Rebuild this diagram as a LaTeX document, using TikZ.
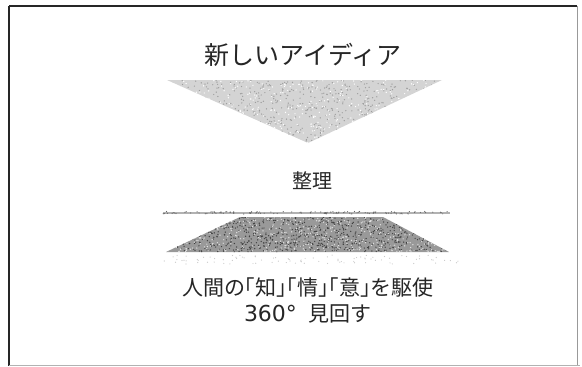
\documentclass[tikz,border=0pt]{standalone}
\usepackage{fontspec}
\newfontfamily\jpfont{Noto Sans CJK JP}
\newfontfamily\numfont{DejaVu Sans}
\tikzset{
  lbl/.style={font=\jpfont, inner sep=0pt, text=black!85, anchor=center},
  frame/.style={draw=black!85, line width=1.1pt},
}
\begin{document}
\begin{tikzpicture}[x=1pt,y=-1pt]
\useasboundingbox (0,0) rectangle (582,367);
\fill[white] (0,0) rectangle (582,367);
\draw[frame] (9,6) -- (577,6);
\draw[frame] (9,6) -- (9,366);
\draw[draw=black!40, line width=0.8pt] (577,6) -- (577,366);
\draw[draw=black!30, line width=0.7pt] (9,365.8) -- (580,365.8);
% top inverted triangle
\begin{scope}
  \clip (167,80) -- (442,80) -- (308,143) -- cycle;
  \fill[black!17] (160,78) rectangle (450,150);
  \pgfmathsetseed{7}
  \foreach \i in {1,...,700}{
    \pgfmathsetmacro\px{167+275*rnd}
    \pgfmathsetmacro\py{80+63*rnd}
    \fill[black!38] (\px,\py) circle (0.7pt);
  }
  \foreach \i in {1,...,400}{
    \pgfmathsetmacro\px{167+275*rnd}
    \pgfmathsetmacro\py{80+63*rnd}
    \fill[white] (\px,\py) circle (0.7pt);
  }
\end{scope}
% thin line above trapezoid
\begin{scope}
  \fill[black!30] (163,211.5) rectangle (450,214);
  \pgfmathsetseed{11}
  \foreach \i in {1,...,120}{
    \pgfmathsetmacro\px{163+287*rnd}
    \pgfmathsetmacro\py{211.5+2.5*rnd}
    \fill[black!60] (\px,\py) circle (0.6pt);
  }
\end{scope}
% trapezoid
\begin{scope}
  \clip (240,217) -- (383,217) -- (449,252) -- (166,252) -- cycle;
  \fill[black!40] (160,215) rectangle (455,255);
  \pgfmathsetseed{3}
  \foreach \i in {1,...,900}{
    \pgfmathsetmacro\px{166+283*rnd}
    \pgfmathsetmacro\py{217+35*rnd}
    \fill[black!75] (\px,\py) circle (0.7pt);
  }
  \foreach \i in {1,...,500}{
    \pgfmathsetmacro\px{166+283*rnd}
    \pgfmathsetmacro\py{217+35*rnd}
    \fill[black!12] (\px,\py) circle (0.7pt);
  }
\end{scope}
% faint speckles below trapezoid
\begin{scope}
  \pgfmathsetseed{5}
  \foreach \i in {1,...,90}{
    \pgfmathsetmacro\px{160+300*rnd}
    \pgfmathsetmacro\py{255+9*rnd}
    \fill[black!22] (\px,\py) circle (0.6pt);
  }
\end{scope}
% texts
\node[lbl, font=\jpfont\fontsize{25}{30}\selectfont] (title) at (303,55) {新しいアイディア};
\node[lbl, font=\jpfont\fontsize{20}{24}\selectfont] (seiri) at (312,181) {整理};
\node[lbl, font=\jpfont\fontsize{21}{25}\selectfont] (l1) at (308,288) {人間の｢知｣｢情｣｢意｣を駆使};
\node[lbl, font=\jpfont\fontsize{21}{25}\selectfont] (l2) at (308,314) {{\numfont\fontsize{22}{25}\selectfont 360°}\hspace{12pt}見回す};
\end{tikzpicture}
\end{document}
